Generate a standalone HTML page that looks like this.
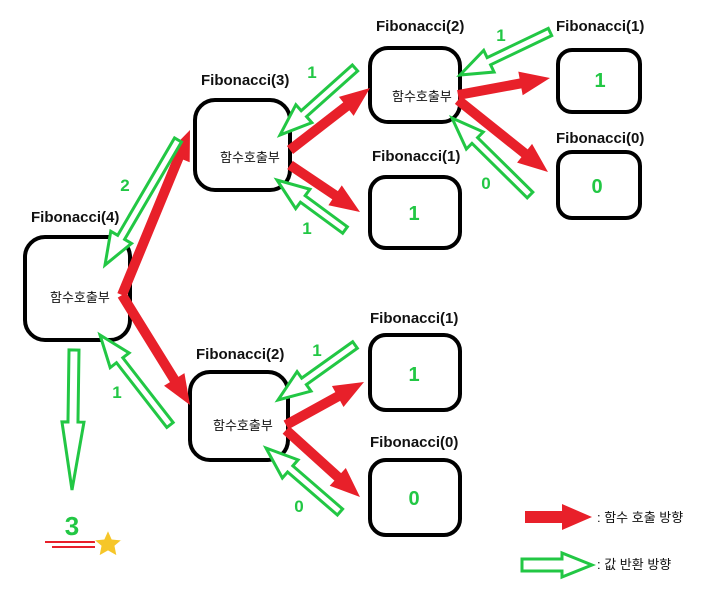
<!DOCTYPE html>
<html><head><meta charset="utf-8"><style>
html,body{margin:0;padding:0;background:#fff;}
svg{display:block;}
text{font-family:"Liberation Sans","Noto Sans CJK KR",sans-serif;}
.lbl{font-size:15px;font-weight:bold;fill:#111;}
.kr{font-size:13px;fill:#111;}
.num{font-size:20px;font-weight:bold;fill:#22c744;text-anchor:middle;}
.gn{font-size:17px;font-weight:bold;fill:#22c744;text-anchor:middle;}
</style></head><body>
<svg id="s" width="710" height="599" viewBox="0 0 710 599" xmlns="http://www.w3.org/2000/svg">
<g fill="none" stroke="#000" stroke-width="4">
<rect x="25" y="237" width="105" height="103" rx="20"/>
<rect x="195" y="100" width="95" height="90" rx="20"/>
<rect x="370" y="48" width="90" height="74" rx="18"/>
<rect x="558" y="50" width="82" height="62" rx="14"/>
<rect x="558" y="152" width="82" height="66" rx="14"/>
<rect x="370" y="177" width="90" height="71" rx="16"/>
<rect x="190" y="372" width="98" height="88" rx="20"/>
<rect x="370" y="335" width="90" height="75" rx="16"/>
<rect x="370" y="460" width="90" height="75" rx="16"/>
</g>
<text class="lbl" x="31" y="222">Fibonacci(4)</text>
<text class="lbl" x="201" y="85">Fibonacci(3)</text>
<text class="lbl" x="376" y="31">Fibonacci(2)</text>
<text class="lbl" x="556" y="31">Fibonacci(1)</text>
<text class="lbl" x="556" y="143">Fibonacci(0)</text>
<text class="lbl" x="372" y="161">Fibonacci(1)</text>
<text class="lbl" x="196" y="359">Fibonacci(2)</text>
<text class="lbl" x="370" y="323">Fibonacci(1)</text>
<text class="lbl" x="370" y="447">Fibonacci(0)</text>
<text class="kr" x="50" y="302">함수호출부</text>
<text class="kr" x="220" y="162">함수호출부</text>
<text class="kr" x="392" y="101">함수호출부</text>
<text class="kr" x="213" y="430">함수호출부</text>
<text class="num" x="600" y="87">1</text>
<text class="num" x="597" y="193">0</text>
<text class="num" x="414" y="220">1</text>
<text class="num" x="414" y="381">1</text>
<text class="num" x="414" y="505">0</text>
<text class="gn" x="125" y="191">2</text>
<text class="gn" x="117" y="398">1</text>
<text class="gn" x="312" y="78">1</text>
<text class="gn" x="307" y="234">1</text>
<text class="gn" x="501" y="41">1</text>
<text class="gn" x="486" y="189">0</text>
<text class="gn" x="317" y="356">1</text>
<text class="gn" x="299" y="512">0</text>
<text x="72" y="535" style="font-size:26px;font-weight:bold;fill:#22c744;text-anchor:middle">3</text>
<line x1="45" y1="542" x2="95" y2="542" stroke="#e8202a" stroke-width="2"/>
<line x1="52" y1="547" x2="95" y2="547" stroke="#e8202a" stroke-width="2"/>
<polygon points="108,530 112,539 122,540 115,546 117,556 108,551 99,556 101,546 94,540 104,539" fill="#f6c629" stroke="#fff" stroke-width="1"/>
<text x="597" y="522" style="font-size:13px;fill:#111">: 함수 호출 방향</text>
<text x="597" y="569" style="font-size:13px;fill:#111">: 값 반환 방향</text>
<g id="arr"></g>
</svg>
<script>
var g=document.getElementById('arr');
function arrow(x1,y1,x2,y2,red,w,h,hl){
 var dx=x2-x1,dy=y2-y1,L=Math.sqrt(dx*dx+dy*dy),a=Math.atan2(dy,dx)*180/Math.PI;
 var p=[[0,-w],[L-hl,-w],[L-hl,-h],[L,0],[L-hl,h],[L-hl,w],[0,w]].map(function(q){return q.join(',')}).join(' ');
 var e=document.createElementNS('http://www.w3.org/2000/svg','polygon');
 e.setAttribute('points',p);
 e.setAttribute('transform','translate('+x1+','+y1+') rotate('+a+')');
 if(red){e.setAttribute('fill','#e8202a');}
 else{e.setAttribute('fill','#fff');e.setAttribute('stroke','#22c744');e.setAttribute('stroke-width','3');}
 g.appendChild(e);
}
var R=[[122,295,190,130],[122,295,190,405],[290,150,370,88],[290,165,360,212],[458,95,550,78],[458,100,548,172],[286,425,364,382],[286,430,360,497]];
R.forEach(function(r){arrow(r[0],r[1],r[2],r[3],true,5,12,30);});
var G=[[178,140,105,265],[170,425,100,335],[355,68,280,135],[345,230,277,180],[550,32,460,75],[530,195,452,118],[355,345,278,400],[340,512,266,448]];
G.forEach(function(r){arrow(r[0],r[1],r[2],r[3],false,4,12,32);});
arrow(74,350,72,490,false,5,11,68);
arrow(525,517,592,517,true,6,13,30);
arrow(522,565,592,565,false,6,12,30);
</script>
</body></html>
